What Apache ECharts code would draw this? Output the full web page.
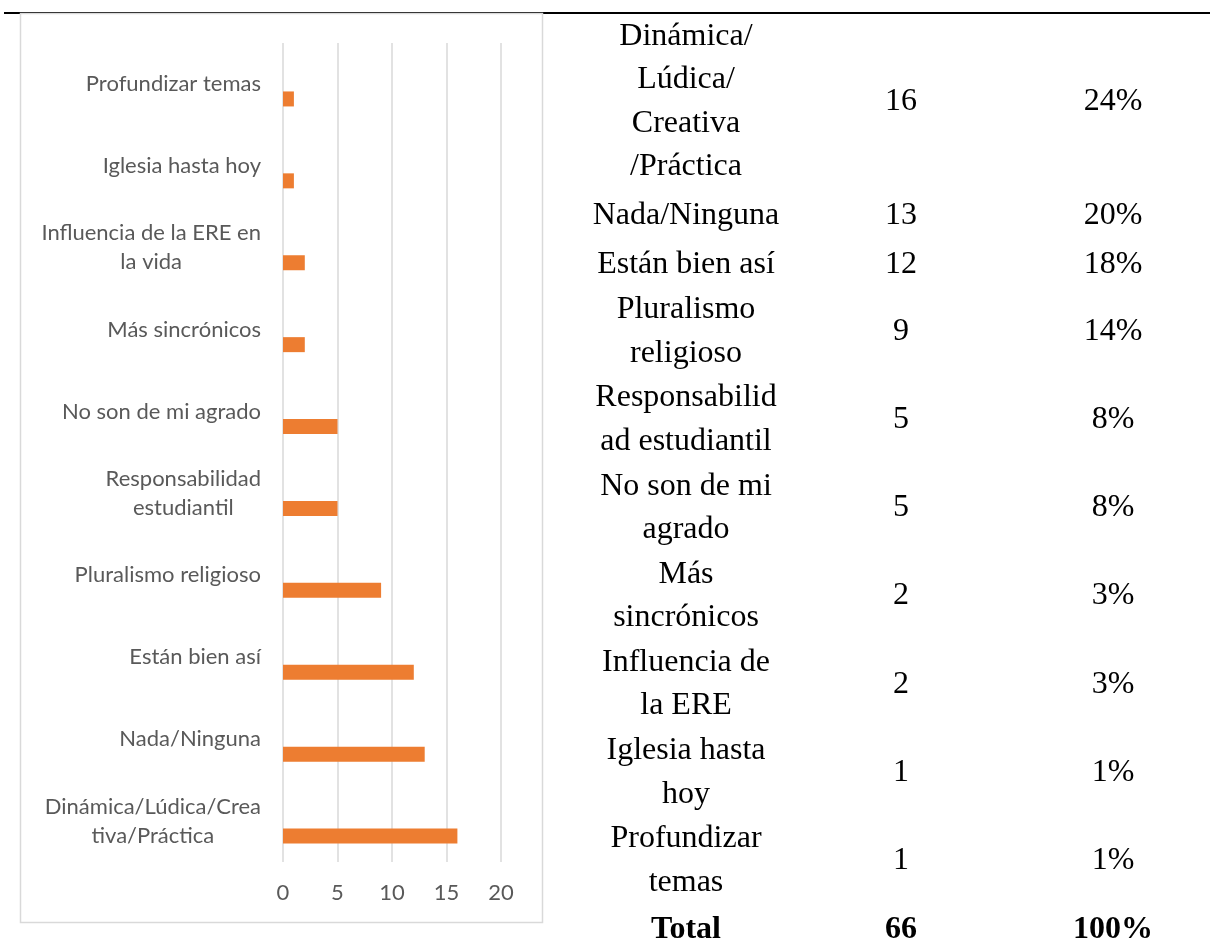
<!DOCTYPE html>
<html>
<head>
<meta charset="utf-8">
<script src="https://cdn.jsdelivr.net/npm/echarts@6/dist/echarts.min.js"></script>
<style>
    html, body { margin: 0; padding: 0; background: #fff; }
    #chart { width: 1210px; height: 949px; }
</style>
</head>
<body>
<div id="chart"></div>
<script>
    // bar chart categories, bottom to top
    const chartLabels = [
        "Dinámica/Lúdica/Crea\ntiva/Práctica",
        "Nada/Ninguna",
        "Están bien así",
        "Pluralismo religioso",
        "Responsabilidad\nestudiantil",
        "No son de mi agrado",
        "Más sincrónicos",
        "Influencia de la ERE en\nla vida",
        "Iglesia hasta hoy",
        "Profundizar temas"
    ];
    const chartValues = [16, 13, 12, 9, 5, 5, 2, 2, 1, 1];
    const xTicks = [0, 5, 10, 15, 20];

    // table rows, top to bottom
    const tableLabels = [
        "Dinámica/\nLúdica/\nCreativa\n/Práctica",
        "Nada/Ninguna",
        "Están bien así",
        "Pluralismo\nreligioso",
        "Responsabilid\nad estudiantil",
        "No son de mi\nagrado",
        "Más\nsincrónicos",
        "Influencia de\nla ERE",
        "Iglesia hasta\nhoy",
        "Profundizar\ntemas"
    ];
    const tableCounts = ["16", "13", "12", "9", "5", "5", "2", "2", "1", "1"];
    const tablePcts = ["24%", "20%", "18%", "14%", "8%", "8%", "3%", "3%", "1%", "1%"];
    const totalRow = ["Total", "66", "100%"];

    const chart = echarts.init(document.getElementById("chart"));

    // tabla de la derecha
    const serif = "'Liberation Serif', 'Times New Roman', serif";
    const lineH = 43.5;
    const colX = [686, 901, 1113];
    const tableGraphics = [];
    const addRow = (cells, y0, nLines, bold) => {
        cells.forEach((txt, i) => {
            const lines = txt.split("\n").length;
            tableGraphics.push({
                type: "text",
                x: colX[i],
                y: y0 + (nLines - lines) * lineH / 2,
                z: 10,
                style: {
                    text: txt,
                    fontFamily: serif,
                    fontSize: 32,
                    fontWeight: bold ? "bold" : "normal",
                    lineHeight: lineH,
                    align: "center",
                    verticalAlign: "top",
                    fill: "#000"
                }
            });
        });
    };
    let rowTop = 14.75;
    tableLabels.forEach((lbl, i) => {
        const n = lbl.split("\n").length;
        addRow([lbl, tableCounts[i], tablePcts[i]], rowTop, n, false);
        // las dos primeras filas tienen algo más de espacio
        rowTop += n * lineH + (i < 2 ? 5.5 : 1.2);
    });
    addRow(totalRow, rowTop + 3, 1, true);

    const option = {
        animation: false,
        grid: { left: 283, right: 709, top: 43, bottom: 87, containLabel: false },
        xAxis: {
            type: "value",
            min: xTicks[0],
            max: xTicks[xTicks.length - 1],
            interval: xTicks[1] - xTicks[0],
            axisLine: { show: false },
            axisTick: { show: false },
            splitLine: { lineStyle: { color: "#d9d9d9", width: 1.5 } },
            axisLabel: {
                color: "#595959",
                fontFamily: "Lato, 'Open Sans', sans-serif",
                fontSize: 22,
                margin: 20
            }
        },
        yAxis: {
            type: "category",
            data: chartLabels,
            axisLine: { show: false },
            axisTick: { show: false },
            axisLabel: {
                margin: 22,
                formatter: (v) => v.split("\n").map((l) => "{c|" + l + "}").join("\n"),
                rich: {
                    c: {
                        align: "center",
                        color: "#595959",
                        fontFamily: "Lato, 'Open Sans', sans-serif",
                        fontSize: 22,
                        lineHeight: 29
                    }
                }
            }
        },
        series: [
            {
                // serie vacía, sólo para desplazar la barra como en Excel
                type: "bar",
                data: chartValues.map(() => "-"),
                barWidth: 15,
                barGap: "100%",
                silent: true
            },
            {
                type: "bar",
                data: chartValues,
                barWidth: 15,
                barGap: "100%",
                itemStyle: { color: "#ED7D31" }
            }
        ],
        graphic: [
            {
                type: "line",
                z: -1,
                shape: { x1: 4, y1: 13, x2: 1210, y2: 13 },
                style: { stroke: "#000", lineWidth: 2 }
            },
            {
                type: "rect",
                z: -1,
                shape: { x: 20.5, y: 13.5, width: 522, height: 909 },
                style: { fill: "#fff", stroke: "#d9d9d9", lineWidth: 1.5 }
            }
        ].concat(tableGraphics)
    };
    chart.setOption(option);
</script>
</body>
</html>
